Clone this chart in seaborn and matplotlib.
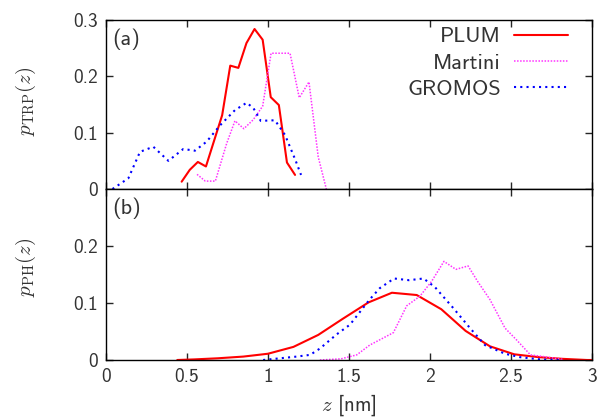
import matplotlib
matplotlib.use("Agg")
import matplotlib.pyplot as plt
import seaborn as sns
from matplotlib.ticker import FormatStrFormatter

# (a) TRP distributions
plum_a_z = [0.467, 0.517, 0.567, 0.617, 0.717, 0.767, 0.817, 0.867, 0.917, 0.967, 1.017, 1.067, 1.117, 1.167]
plum_a_p = [0.013, 0.034, 0.048, 0.040, 0.131, 0.219, 0.215, 0.259, 0.284, 0.265, 0.163, 0.149, 0.047, 0.025]

martini_a_z = [0.562, 0.613, 0.675, 0.745, 0.796, 0.851, 0.909, 0.967, 1.019, 1.074, 1.136, 1.193, 1.253, 1.31, 1.36]
martini_a_p = [0.026, 0.014, 0.014, 0.081, 0.121, 0.107, 0.123, 0.147, 0.241, 0.241, 0.241, 0.162, 0.190, 0.057, 0.0]

gromos_a_z = [0.04, 0.138, 0.21, 0.292, 0.385, 0.477, 0.549, 0.621, 0.704, 0.796, 0.868, 0.909, 0.955, 1.043, 1.105, 1.167, 1.204]
gromos_a_p = [0.0, 0.019, 0.066, 0.075, 0.050, 0.071, 0.068, 0.084, 0.113, 0.140, 0.153, 0.144, 0.121, 0.122, 0.096, 0.053, 0.025]

# (b) PH distributions
plum_b_z = [0.44, 0.54, 0.69, 0.848, 1.0, 1.157, 1.31, 1.46, 1.62, 1.765, 1.918, 2.07, 2.22, 2.37, 2.52, 2.67, 2.82, 2.97, 3.0]
plum_b_p = [0.0, 0.001, 0.003, 0.006, 0.011, 0.023, 0.044, 0.072, 0.101, 0.118, 0.114, 0.089, 0.051, 0.024, 0.010, 0.005, 0.002, 0.0, 0.0]

martini_b_z = [1.32, 1.45, 1.548, 1.627, 1.774, 1.856, 1.938, 2.01, 2.086, 2.16, 2.235, 2.296, 2.37, 2.463, 2.535, 2.62, 2.70, 2.82]
martini_b_p = [0.0, 0.002, 0.009, 0.026, 0.048, 0.095, 0.112, 0.138, 0.173, 0.159, 0.165, 0.137, 0.106, 0.056, 0.035, 0.009, 0.006, 0.001]

gromos_b_z = [0.97, 1.177, 1.26, 1.32, 1.424, 1.506, 1.627, 1.69, 1.778, 1.87, 1.96, 2.03, 2.144, 2.247, 2.34, 2.463, 2.555, 2.68, 2.8]
gromos_b_p = [0.0, 0.006, 0.009, 0.020, 0.045, 0.062, 0.106, 0.126, 0.143, 0.140, 0.143, 0.128, 0.091, 0.056, 0.026, 0.011, 0.005, 0.001, 0.0]

labels = ["PLUM", "Martini", "GROMOS"]
x_ticks = [0, 0.5, 1, 1.5, 2, 2.5, 3]

sns.set_style("ticks")
plt.rcParams["font.family"] = ["cmss10", "DejaVu Sans"]
plt.rcParams["mathtext.fontset"] = "cm"
plt.rcParams["axes.unicode_minus"] = False
txt = "#333333"

styles = [
    dict(color="#ff0000", linestyle="-", linewidth=1.5),
    dict(color="#ff33ff", linestyle=(0, (1, 1)), linewidth=1.1),
    dict(color="#0000ff", linestyle=(0, (1, 2)), linewidth=1.5),
]

fig = plt.figure(figsize=(6.08, 4.2), dpi=100)
ax_a = fig.add_axes([106 / 608, 1 - 189 / 420, 486 / 608, 169 / 420])
ax_b = fig.add_axes([106 / 608, 1 - 360 / 420, 486 / 608, 171 / 420])

series_a = [(plum_a_z, plum_a_p), (martini_a_z, martini_a_p), (gromos_a_z, gromos_a_p)]
series_b = [(plum_b_z, plum_b_p), (martini_b_z, martini_b_p), (gromos_b_z, gromos_b_p)]

for (z, p), lab, st in zip(series_a, labels, styles):
    sns.lineplot(x=z, y=p, ax=ax_a, label=lab, sort=False, estimator=None, **st)
for (z, p), st in zip(series_b, styles):
    sns.lineplot(x=z, y=p, ax=ax_b, sort=False, estimator=None, **st)

for ax in (ax_a, ax_b):
    ax.set_xlim(0, 3)
    ax.set_ylim(0, 0.3)
    ax.set_xticks(x_ticks)
    ax.yaxis.set_major_formatter(FormatStrFormatter("%g"))
    ax.xaxis.set_major_formatter(FormatStrFormatter("%g"))
    ax.tick_params(direction="in", top=True, right=True, length=5, width=1,
                   labelsize=14, labelcolor=txt, pad=6)
    for s in ax.spines.values():
        s.set_linewidth(1.0)
        s.set_color("black")

ax_a.set_yticks([0, 0.1, 0.2, 0.3])
ax_a.tick_params(labelbottom=False)
ax_b.set_yticks([0, 0.1, 0.2])

ax_a.set_ylabel(r"$p_{\rm TRP}(z)$", fontsize=15, color=txt)
ax_b.set_ylabel(r"$p_{\rm PH}(z)$", fontsize=15, color=txt)
ax_a.yaxis.set_label_coords(-0.14, 0.52)
ax_b.yaxis.set_label_coords(-0.14, 0.54)
ax_b.set_xlabel(r"$z$ [nm]", fontsize=15, color=txt, labelpad=4)

ax_a.text(0.013, 0.95, "(a)", transform=ax_a.transAxes, fontsize=16, color=txt, va="top")
ax_b.text(0.013, 0.95, "(b)", transform=ax_b.transAxes, fontsize=16, color=txt, va="top")

leg = ax_a.legend(loc="upper right", bbox_to_anchor=(0.95, 0.96), frameon=False,
                  markerfirst=False, fontsize=16, handlelength=2.4, handletextpad=0.6,
                  labelspacing=0.3, borderpad=0, borderaxespad=0)
for t in leg.get_texts():
    t.set_color(txt)

fig.savefig("out.png", dpi=100)
